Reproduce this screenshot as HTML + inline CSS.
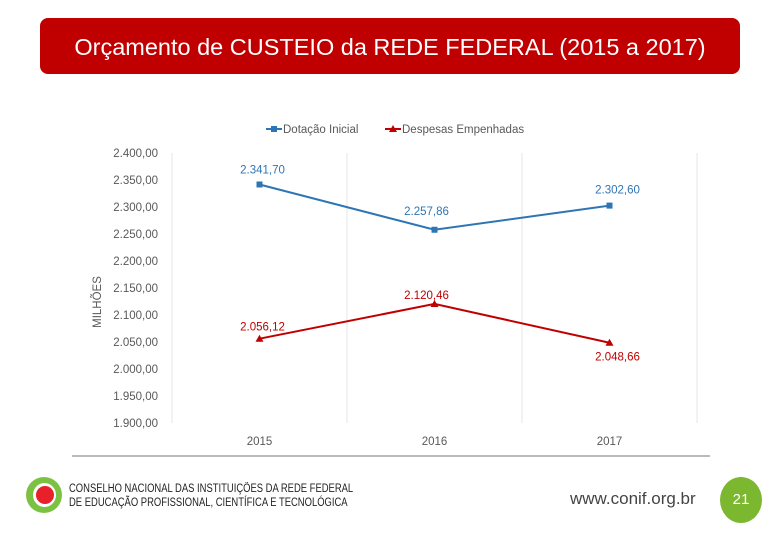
<!DOCTYPE html>
<html><head><meta charset="utf-8"><style>
body{margin:0;width:780px;height:540px;background:#fff;font-family:"Liberation Sans",sans-serif;overflow:hidden;position:relative}
.t{position:absolute;left:40px;top:18px;width:700px;height:56px;background:#c00000;border-radius:8px;color:#fff;font-size:23.5px;line-height:58px;text-align:center}
</style></head><body>
<div class="t">Orçamento de CUSTEIO da REDE FEDERAL (2015 a 2017)</div>
<svg id="c" width="780" height="540" style="position:absolute;left:0;top:0"></svg>
<div style="position:absolute;left:26px;top:477px;width:36px;height:36px;border-radius:50%;background:#7cc242"><div style="position:absolute;left:7px;top:6px;width:23px;height:24px;border-radius:50%;background:#fff"></div><div style="position:absolute;left:10px;top:9px;width:18px;height:18px;border-radius:50%;background:#e8202a"></div></div>
<div style="position:absolute;left:69px;top:482px;font-size:11.5px;line-height:14px;color:#222;transform:scaleX(.82);transform-origin:left">CONSELHO NACIONAL DAS INSTITUIÇÕES DA REDE FEDERAL<br>DE EDUCAÇÃO PROFISSIONAL, CIENTÍFICA E TECNOLÓGICA</div>
<div style="position:absolute;left:570px;top:489px;font-size:17px;color:#444">www.conif.org.br</div>
<div style="position:absolute;left:720px;top:477px;width:42px;height:46px;border-radius:50%;background:#7cb82f;color:#fff;font-size:15px;text-align:center;line-height:46px">21</div>
<script>
const categories=["2015","2016","2017"];
const dotacao=[2341.70,2257.86,2302.60];
const despesas=[2056.12,2120.46,2048.66];
const dotLabels=["2.341,70","2.257,86","2.302,60"];
const despLabels=["2.056,12","2.120,46","2.048,66"];
const yTicks=[1900,1950,2000,2050,2100,2150,2200,2250,2300,2350,2400];
const yTickLabels=["1.900,00","1.950,00","2.000,00","2.050,00","2.100,00","2.150,00","2.200,00","2.250,00","2.300,00","2.350,00","2.400,00"];
const svg=document.getElementById('c');const NS='http://www.w3.org/2000/svg';
function el(t,a,p){const e=document.createElementNS(NS,t);for(const k in a)e.setAttribute(k,a[k]);(p||svg).appendChild(e);return e;}
const x0=172,x1=697,yTop=153,yBot=423;
const y=v=>yBot-(v-1900)/500*(yBot-yTop);
const bw=(x1-x0)/categories.length;
const x=i=>x0+bw*(i+.5);
for(let i=0;i<=categories.length;i++){const g=el('line',{x1:x0+bw*i,x2:x0+bw*i,y1:yTop,y2:yBot,stroke:'#e4e4e4'});}
el('line',{x1:72,x2:710,y1:456,y2:456,stroke:'#777'});
yTicks.forEach((v,i)=>{const t=el('text',{x:158,y:y(v)+4,'text-anchor':'end','font-size':11.5,fill:'#595959'});t.textContent=yTickLabels[i];});
categories.forEach((c,i)=>{const t=el('text',{x:x(i),y:445,'text-anchor':'middle','font-size':11.5,fill:'#595959'});t.textContent=c;});
const yt=el('text',{x:0,y:0,transform:'translate(101,302) rotate(-90)','text-anchor':'middle','font-size':11.5,fill:'#595959'});yt.textContent='MILHÕES';
function series(vals,labs,col,name,tri,offs){
 const p=el('polyline',{points:vals.map((v,i)=>x(i)+','+y(v)).join(' '),fill:'none',stroke:col,'stroke-width':2});
 
 vals.forEach((v,i)=>{let m;if(tri)m=el('polygon',{points:`${x(i)},${y(v)-4} ${x(i)-4},${y(v)+3} ${x(i)+4},${y(v)+3}`,fill:col});else m=el('rect',{x:x(i)-3,y:y(v)-3,width:6,height:6,fill:col});
 
 const t=el('text',{x:x(i)+offs[i][0],y:y(v)+offs[i][1],'text-anchor':'middle','font-size':11.5,fill:col});t.textContent=labs[i];});
}
series(dotacao,dotLabels,'#2e75b6','dotacao',false,[[3,-11],[-8,-15],[8,-12]]);
series(despesas,despLabels,'#c00000','despesas',true,[[3,-8],[-8,-5],[8,18]]);
const lg=[['Dotação Inicial','#2e75b6',266,false],['Despesas Empenhadas','#c00000',385,true]];
lg.forEach(l=>{el('line',{x1:l[2],x2:l[2]+16,y1:129,y2:129,stroke:l[1],'stroke-width':2});if(l[3])el('polygon',{points:`${l[2]+8},125 ${l[2]+4},132 ${l[2]+12},132`,fill:l[1]});else el('rect',{x:l[2]+5,y:126,width:6,height:6,fill:l[1]});
const t=el('text',{x:l[2]+17,y:133,'font-size':11.5,fill:'#595959'});t.textContent=l[0];});
</script>
</body></html>
